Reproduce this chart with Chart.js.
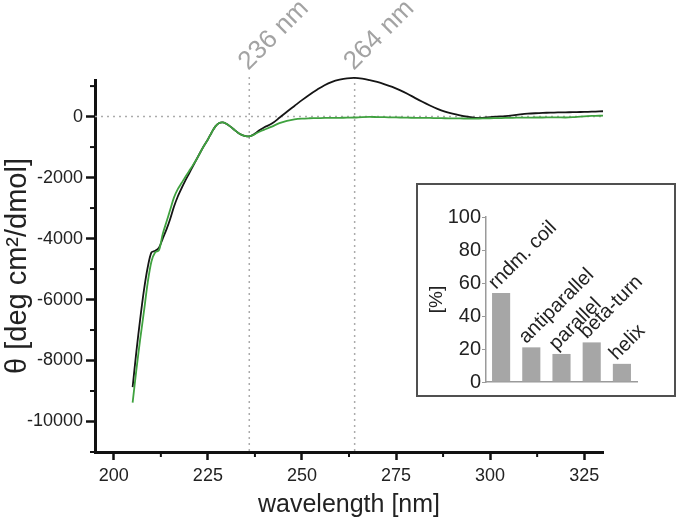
<!DOCTYPE html>
<html>
<head>
<meta charset="utf-8">
<script src="https://cdn.jsdelivr.net/npm/chart.js@4.4.1/dist/chart.umd.min.js"></script>
<style>
html, body { margin: 0; padding: 0; background: #fff; }
#wrap { position: relative; width: 678px; height: 522px; }
#inset { position: absolute; left: 416px; top: 183px; width: 256px; height: 210px; border: 2px solid #505050; background: #fff; }
</style>
</head>
<body>
<div id="wrap">
  <canvas id="cdChart" width="678" height="522"></canvas>
  <div id="inset"><canvas id="structChart" width="256" height="210"></canvas></div>
</div>
<script>
// CD spectrum
var wavelength = [205,206,207,208,209,210,211,212,213,214,215,216,217,218,219,220,221,222,223,224,
  225,226,227,228,229,230,231,232,233,234,235,236,237,238,239,240,
  242,244,246,248,250,252,254,256,258,260,262,264,266,268,270,272,274,276,278,280,
  282,284,286,288,290,292,294,296,298,300,302,304,306,308,310,312,314,316,318,320,
  322,324,326,328,330];
var thetaBlack = [-8870,-7700,-6650,-5700,-4950,-4450,-4400,-4300,-4000,-3700,
  -3350,-2950,-2620,-2350,-2100,-1870,-1630,-1400,-1170,-950,
  -750,-520,-320,-210,-190,-240,-330,-430,-530,-600,-640,-650,-600,-510,-425,-350,
  -230,-40,160,350,540,720,880,1030,1140,1210,1255,1270,1245,1195,1135,1060,975,870,750,615,
  485,365,255,165,95,40,-5,-40,-40,-15,0,15,40,70,95,110,120,130,135,140,
  145,150,155,165,175];
var thetaGreen = [-9380,-8300,-7310,-6400,-5450,-4750,-4450,-4380,-3850,-3450,
  -3050,-2650,-2380,-2180,-1980,-1790,-1600,-1400,-1170,-950,
  -750,-520,-320,-210,-190,-240,-330,-430,-530,-600,-640,-650,-610,-540,-480,-430,
  -330,-215,-140,-90,-65,-55,-50,-45,-45,-40,-35,-30,-15,-10,-15,-20,-25,-30,-35,-40,
  -40,-45,-50,-55,-60,-60,-65,-65,-60,-55,-50,-45,-40,-35,-35,-30,-30,-25,-25,-30,
  -20,0,15,25,30];
var xTicks = [200,225,250,275,300,325];
var xMinor = [212.5,237.5,262.5,287.5,312.5];
var yTicks = [0,-2000,-4000,-6000,-8000,-10000];
var yMinor = [1000,-1000,-3000,-5000,-7000,-9000,-11000];
var markers = [236, 264];

// inset: secondary structure
var structures = ['rndm. coil','antiparallel','parallel','beta-turn','helix'];
var percent = [54,21,17,24,11];
var percentTicks = [0,20,40,60,80,100];

var FONT = '"Liberation Sans", Arial, sans-serif';

var guides = {
  id: 'guides',
  beforeDatasetsDraw: function(chart) {
    var ctx = chart.ctx, x = chart.scales.x, y = chart.scales.y, a = chart.chartArea;
    ctx.save();
    ctx.strokeStyle = '#ababab';
    ctx.lineWidth = 1.5;
    ctx.setLineDash([2, 4]);
    var y0 = y.getPixelForValue(0);
    ctx.beginPath(); ctx.moveTo(a.left, y0); ctx.lineTo(a.right, y0); ctx.stroke();
    markers.forEach(function(m) {
      var px = x.getPixelForValue(m);
      ctx.beginPath(); ctx.moveTo(px, a.top - 3); ctx.lineTo(px, a.bottom); ctx.stroke();
    });
    ctx.restore();
  },
  afterDraw: function(chart) {
    var ctx = chart.ctx, x = chart.scales.x, y = chart.scales.y, a = chart.chartArea;
    ctx.save();
    // minor ticks
    ctx.strokeStyle = '#111';
    ctx.lineWidth = 2;
    xMinor.forEach(function(v) {
      var px = x.getPixelForValue(v);
      ctx.beginPath(); ctx.moveTo(px, a.bottom); ctx.lineTo(px, a.bottom + 5); ctx.stroke();
    });
    yMinor.forEach(function(v) {
      var py = y.getPixelForValue(v);
      ctx.beginPath(); ctx.moveTo(a.left, py); ctx.lineTo(a.left - 5, py); ctx.stroke();
    });
    // marker labels
    ctx.fillStyle = '#a3a3a3';
    ctx.font = '26px ' + FONT;
    ctx.textAlign = 'left';
    ctx.textBaseline = 'alphabetic';
    markers.forEach(function(m) {
      var px = x.getPixelForValue(m);
      ctx.save();
      ctx.translate(px - 1, a.top - 9);
      ctx.rotate(-Math.PI / 4);
      ctx.fillText(m + ' nm', 0, 0);
      ctx.restore();
    });
    ctx.restore();
  }
};

function series(vals) {
  return wavelength.map(function(w, i) { return {x: w, y: vals[i]}; });
}

var cdChart = new Chart(document.getElementById('cdChart'), {
  type: 'line',
  data: {
    datasets: [{
      label: 'green',
      data: series(thetaGreen),
      borderColor: '#3fa23f',
      borderWidth: 1.8,
      pointRadius: 0,
      tension: 0.3,
      clip: false,
      order: 0
    }, {
      label: 'black',
      data: series(thetaBlack),
      borderColor: '#151515',
      borderWidth: 1.8,
      pointRadius: 0,
      tension: 0.3,
      clip: false,
      order: 1
    }]
  },
  options: {
    responsive: false,
    animation: false,
    layout: { padding: { top: 80, right: 75, left: 0, bottom: 0 } },
    plugins: { legend: { display: false }, tooltip: { enabled: false } },
    scales: {
      x: {
        type: 'linear',
        min: 195,
        max: 330,
        afterFit: function(s) { s.height = 70; },
        afterBuildTicks: function(s) { s.ticks = xTicks.map(function(v) { return {value: v}; }); },
        grid: { drawOnChartArea: false, tickLength: 8, tickWidth: 2.5, tickColor: '#111' },
        border: { display: true, color: '#111', width: 3 },
        ticks: { color: '#222', font: { family: FONT, size: 18 }, padding: 5, maxRotation: 0,
                 callback: function(v) { return String(v); } },
        title: { display: true, text: 'wavelength [nm]', color: '#222',
                 font: { family: FONT, size: 25 }, padding: { top: 0, bottom: 2 } }
      },
      y: {
        min: -11000,
        max: 1200,
        afterFit: function(s) { s.width = 95; },
        afterBuildTicks: function(s) { s.ticks = yTicks.map(function(v) { return {value: v}; }); },
        grid: { drawOnChartArea: false, tickLength: 9, tickWidth: 2.5, tickColor: '#111' },
        border: { display: true, color: '#111', width: 3 },
        ticks: { color: '#222', font: { family: FONT, size: 18 }, padding: 3,
                 callback: function(v) { return String(v); } },
        title: { display: true, text: 'θ [deg cm²/dmol]', color: '#222',
                 font: { family: FONT, size: 29 }, padding: { top: 1, bottom: 0 } }
      }
    }
  },
  plugins: [guides]
});

var barLabels = {
  id: 'barLabels',
  afterDatasetsDraw: function(chart) {
    var ctx = chart.ctx;
    var bars = chart.getDatasetMeta(0).data;
    ctx.save();
    ctx.font = '20px ' + FONT;
    ctx.fillStyle = '#222';
    ctx.textAlign = 'left';
    ctx.textBaseline = 'alphabetic';
    bars.forEach(function(b, i) {
      ctx.save();
      ctx.translate(b.x - b.width / 2 + 4, b.y - 3);
      ctx.rotate(-Math.PI / 4);
      ctx.fillText(structures[i], 0, 0);
      ctx.restore();
    });
    ctx.restore();
  }
};

var structChart = new Chart(document.getElementById('structChart'), {
  type: 'bar',
  data: {
    labels: structures,
    datasets: [{
      data: percent,
      backgroundColor: '#a6a6a6',
      barPercentage: 0.6,
      categoryPercentage: 1
    }]
  },
  options: {
    responsive: false,
    animation: false,
    layout: { padding: { top: 32, right: 37, left: 0, bottom: 0 } },
    plugins: { legend: { display: false }, tooltip: { enabled: false } },
    scales: {
      x: {
        grid: { display: false },
        border: { display: true, color: '#9a9a9a', width: 1.5 },
        ticks: { display: false },
        afterFit: function(s) { s.height = 12; }
      },
      y: {
        min: 0,
        max: 100,
        afterFit: function(s) { s.width = 68; },
        afterBuildTicks: function(s) { s.ticks = percentTicks.map(function(v) { return {value: v}; }); },
        grid: { drawOnChartArea: false, tickLength: 4, tickColor: '#9a9a9a' },
        border: { display: true, color: '#9a9a9a', width: 1.5 },
        ticks: { color: '#222', font: { family: FONT, size: 20 }, padding: 1 },
        title: { display: true, text: '[%]', color: '#222',
                 font: { family: FONT, size: 19 }, padding: { top: 7, bottom: 0 } }
      }
    }
  },
  plugins: [barLabels]
});
</script>
</body>
</html>
